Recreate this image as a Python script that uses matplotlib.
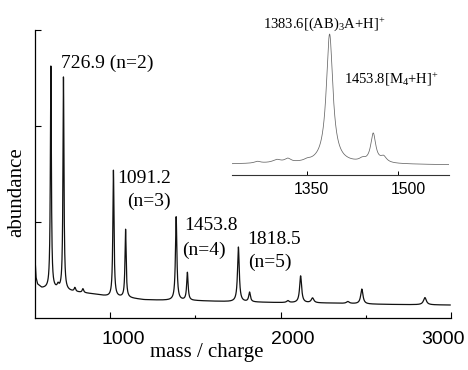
import numpy as np
import matplotlib
matplotlib.use("Agg")
import matplotlib.pyplot as plt
from matplotlib.ticker import FixedLocator, NullFormatter
from matplotlib.transforms import blended_transform_factory

plt.rcParams['mathtext.fontset'] = 'custom'
plt.rcParams['mathtext.rm'] = 'Liberation Serif'
plt.rcParams['mathtext.it'] = 'Liberation Serif:italic'

# ---- main spectrum data ----
main_peak_mz = [653, 695, 726.9, 794, 841, 1020, 1091.2, 1388, 1453.8,
                1753, 1818.5, 2043, 2118, 2188, 2395, 2477, 2847]
main_peak_amp = [2.32, 0.04, 2.22, 0.04, 0.04, 1.32, 0.71, 0.87, 0.29,
                 0.57, 0.10, 0.02, 0.28, 0.05, 0.02, 0.155, 0.075]
main_peak_hwhm = [3.5, 6, 3.5, 5, 5, 4, 4, 5, 5,
                  6, 6, 8, 7, 9, 10, 8, 10]
main_base_mz = [560, 566, 575, 600, 700, 800, 900, 1000, 1100, 1200, 1300,
                1500, 1600, 1700, 2000, 2300, 2500, 2700, 2995]
main_base_val = [0.62, 0.42, 0.35, 0.31, 0.29, 0.27, 0.25, 0.22, 0.21, 0.19,
                 0.185, 0.18, 0.175, 0.17, 0.16, 0.155, 0.145, 0.14, 0.135]

# ---- inset data ----
inset_peak_mz = [1268, 1300, 1318, 1350, 1387, 1441, 1459, 1476]
inset_peak_amp = [0.012, 0.02, 0.025, 0.01, 0.89, 0.02, 0.20, 0.04]
inset_peak_hwhm = [6, 8, 6, 6, 6.5, 6, 5, 6]
inset_base_mz = [1226, 1300, 1400, 1500, 1584]
inset_base_val = [0.076, 0.08, 0.08, 0.074, 0.07]

main_xticks = [1000, 2000, 3000]
main_xticklabels = ['1000', '2000', '3000']
main_xminor = [1500, 2500]
main_yticks = [1, 2, 3]
inset_xticks = [1350, 1500]
inset_xticklabels = ['1350', '1500']


def spectrum(x, centers, amps, hwhms, bx, bv):
    y = np.interp(x, bx, bv)
    for c, a, w in zip(centers, amps, hwhms):
        y = y + a * w**2 / ((x - c)**2 + w**2)
    return y


W, H = 468, 370
fig = plt.figure(figsize=(W / 100, H / 100), dpi=100)

def fx(px):
    return px / W

def fy(py):
    return 1 - py / H

# main axes
ax = fig.add_axes([fx(35), fy(318), fx(451) - fx(35), fy(30) - fy(318)])
x = np.linspace(560, 2995, 6000)
y = spectrum(x, main_peak_mz, main_peak_amp, main_peak_hwhm, main_base_mz, main_base_val)
ax.plot(x, y, color='#111111', lw=0.9)
ax.set_xlim(560, 3000)
ax.set_ylim(0, 3)
for s in ['top', 'right']:
    ax.spines[s].set_visible(False)
for s in ['left', 'bottom']:
    ax.spines[s].set_linewidth(0.9)
ax.xaxis.set_major_locator(FixedLocator(main_xticks))
ax.xaxis.set_minor_locator(FixedLocator(main_xminor))
ax.xaxis.set_major_formatter(NullFormatter())
ax.set_yticks(main_yticks)
ax.yaxis.set_major_formatter(NullFormatter())
ax.tick_params(axis='x', which='major', direction='in', length=4.5, width=0.8)
ax.tick_params(axis='x', which='minor', direction='in', length=2.5, width=0.8)
ax.tick_params(axis='y', which='major', direction='in', length=4.5, width=0.8)

# tick labels in the reference sit slightly off their tick marks
main_label_shift_px = [13, 12, -8]
tr = blended_transform_factory(ax.transData, ax.transAxes)
for t, lab, dpx in zip(main_xticks, main_xticklabels, main_label_shift_px):
    ax.annotate(lab, xy=(t, 0), xycoords=tr, xytext=(dpx * 0.72, -9),
                textcoords='offset points', ha='center', va='top',
                family='Liberation Sans', fontsize=14, annotation_clip=False)

serif = 'Liberation Serif'
lab_fs = 14
ax.text(712, 2.61, '726.9 (n=2)', family=serif, fontsize=lab_fs, va='baseline')
ax.text(1040, 1.41, '1091.2', family=serif, fontsize=lab_fs, va='baseline')
ax.text(1099, 1.17, '(n=3)', family=serif, fontsize=lab_fs, va='baseline')
ax.text(1434, 0.92, '1453.8', family=serif, fontsize=lab_fs, va='baseline')
ax.text(1422, 0.66, '(n=4)', family=serif, fontsize=lab_fs, va='baseline')
ax.text(1803, 0.77, '1818.5', family=serif, fontsize=lab_fs, va='baseline')
ax.text(1809, 0.53, '(n=5)', family=serif, fontsize=lab_fs, va='baseline')

fig.text(fx(17), fy(192), 'abundance', family=serif, fontsize=15,
         rotation=90, ha='center', va='center')
fig.text(fx(207), fy(352), 'mass / charge', family=serif, fontsize=15,
         ha='center', va='center')

# inset axes
ia = fig.add_axes([fx(232), fy(175), fx(449) - fx(232), fy(30) - fy(175)])
xi = np.linspace(1226, 1584, 3000)
yi = spectrum(xi, inset_peak_mz, inset_peak_amp, inset_peak_hwhm, inset_base_mz, inset_base_val)
ia.plot(xi, yi, color='#666666', lw=0.55)
ia.set_xlim(1226, 1584)
ia.set_ylim(0, 1)
ia.patch.set_alpha(0)
for s in ['top', 'right', 'left']:
    ia.spines[s].set_visible(False)
ia.spines['bottom'].set_linewidth(0.8)
ia.spines['bottom'].set_color('#333333')
ia.set_yticks([])
ia.set_xticks(inset_xticks)
ia.xaxis.set_major_formatter(NullFormatter())
ia.tick_params(axis='x', direction='in', length=3, width=0.7)
inset_label_shift_px = [4, 10]
tri = blended_transform_factory(ia.transData, ia.transAxes)
for t, lab, dpx in zip(inset_xticks, inset_xticklabels, inset_label_shift_px):
    ia.annotate(lab, xy=(t, 0), xycoords=tri, xytext=(dpx * 0.72, -5),
                textcoords='offset points', ha='center', va='top',
                family='Liberation Sans', fontsize=11.3, annotation_clip=False)
ia.text(1277.5, 1.014, r'1383.6[(AB)$_3$A+H]$^{+}$', family=serif, fontsize=10.5,
        va='baseline', clip_on=False)
ia.text(1411, 0.63, r'1453.8[M$_4$+H]$^{+}$', family=serif, fontsize=10.5,
        va='baseline', clip_on=False)

fig.savefig('out.png', dpi=100)
